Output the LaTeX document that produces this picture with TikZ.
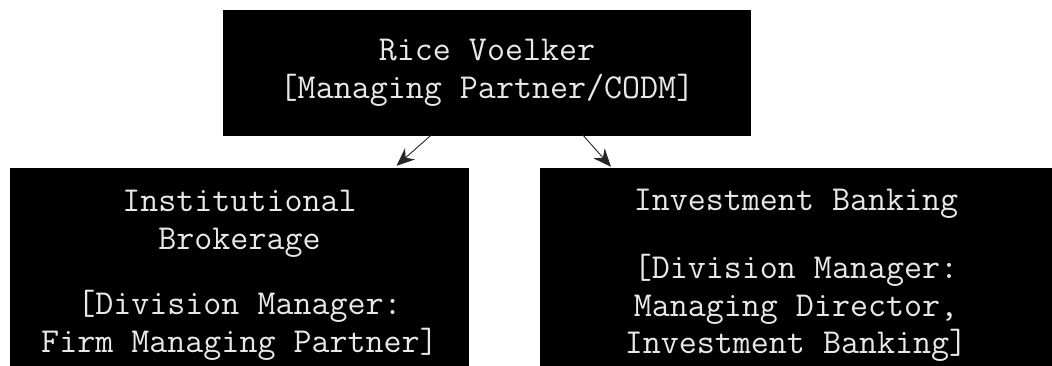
\documentclass[tikz,border=0pt]{standalone}
\usetikzlibrary{calc,arrows.meta}
\definecolor{boxtext}{RGB}{232,232,232}
\tikzset{
  orgbox/.style={rectangle, fill=black, draw=none, inner sep=0pt, text=boxtext,
    align=center, font=\ttfamily\fontsize{35}{37.5}\selectfont},
  arr/.style={draw=black!85, line width=0.9pt, -{Stealth[length=18pt,width=15pt]}}
}
\begin{document}
\begin{tikzpicture}[x=1pt,y=-1pt]
\useasboundingbox[fill=white] (0,0) rectangle (1052,366);
\node[orgbox, minimum width=528pt, minimum height=126pt] (top) at (487,73)
  {Rice Voelker\\{[}Managing Partner/CODM{]}};
\node[orgbox, minimum width=459pt, minimum height=198pt, text height=170pt, text depth=0pt] (ib) at (239.5,267)
  {Institutional\\Brokerage\\[28pt]{[}Division Manager:\\Firm Managing Partner{]}};
\node[orgbox, minimum width=512pt, minimum height=198pt, text height=173pt, text depth=0pt] (inv) at (796,267)
  {Investment Banking\\[31pt]{[}Division Manager:\\Managing Director,\\Investment Banking{]}};
\draw[arr] ($(top.south)+(-56,-1)$) -- ($(ib.north)+(157,-2)$);
\draw[arr] ($(top.south)+(96,-1)$) -- ($(inv.north)+(-185,-1)$);
\end{tikzpicture}
\end{document}
